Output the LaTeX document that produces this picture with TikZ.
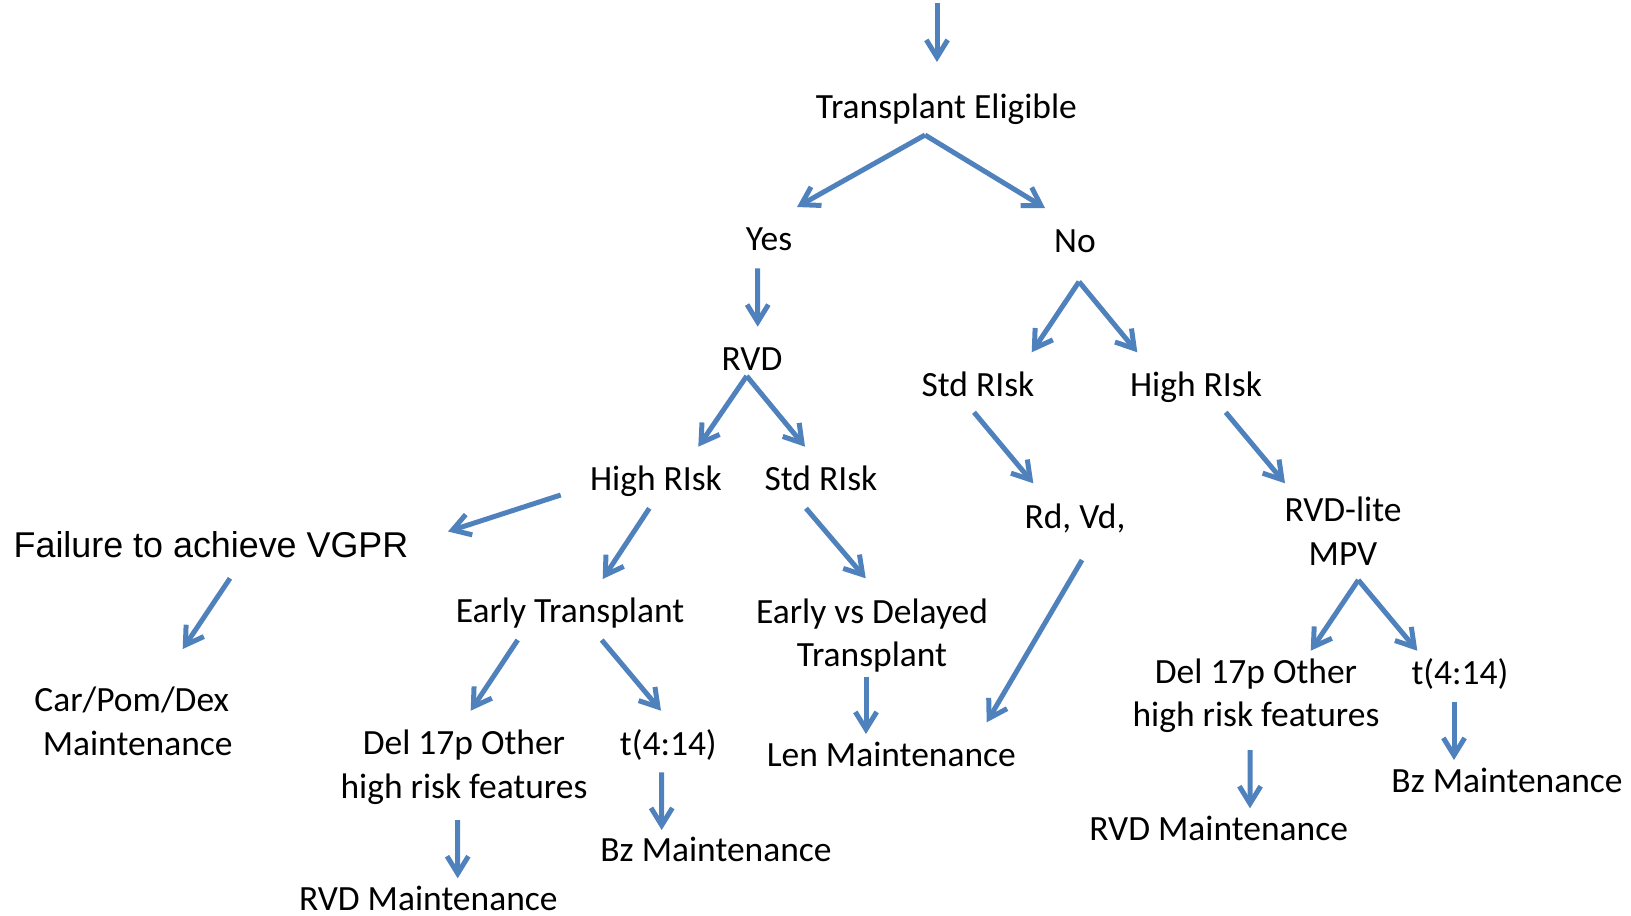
\documentclass[tikz,border=0pt]{standalone}
\usepackage{fontspec}
\setmainfont{Carlito}
\newfontfamily\arialfont{Liberation Sans}
\usetikzlibrary{arrows.meta,calc}
\definecolor{arrowblue}{RGB}{79,129,189}
\begin{document}
\begin{tikzpicture}[x=0.75pt,y=-0.75pt,
  lbl/.style={inner sep=0pt, anchor=base, align=center, font=\fontsize{26.6}{32.5}\selectfont},
  arialbl/.style={inner sep=0pt, anchor=base, font=\arialfont\fontsize{26.9}{32.5}\selectfont},
  arr/.style={draw=arrowblue, line width=3.75pt, -{Straight Barb[length=13pt,width=16pt]}}]
\useasboundingbox (0,0) rectangle (1631,915);

% nodes (base anchor = baseline of the last line)
\node[lbl] (te)    at (946.5,118)  {Transplant Eligible};
\node[lbl] (yes)   at (769,250)    {Yes};
\node[lbl] (no)    at (1075,252.5) {No};
\node[lbl] (rvd)   at (752,370)    {RVD};
\node[lbl] (hrl)   at (656,490)    {High RIsk};
\node[lbl] (srl)   at (821,490)    {Std RIsk};
\node[lbl] (srr)   at (978,396)    {Std RIsk};
\node[lbl] (hrr)   at (1196,396)   {High RIsk};
\node[lbl] (rdvd)  at (1075,528)   {Rd, Vd,};
\node[lbl] (lite)  at (1343,565)   {RVD-lite\\MPV};
\node[arialbl] (fail) at (211,557) {Failure to achieve VGPR};
\node[lbl] (et)    at (570,622.7)  {Early Transplant};
\node[lbl] (evd)   at (872,666.7)  {Early vs Delayed\\Transplant};
\node[lbl] (cpd)   at (137.7,755)  {Car/Pom/Dex\kern9pt\\Maintenance};
\node[lbl] (dell)  at (464,798.3)  {Del 17p Other\\high risk features};
\node[lbl] (tl)    at (668.3,755)  {t(4:14)};
\node[lbl] (len)   at (891.3,766)  {Len Maintenance};
\node[lbl] (delr)  at (1256,726.7) {Del 17p Other\\high risk features};
\node[lbl] (tr)    at (1460,684)   {t(4:14)};
\node[lbl] (bzl)   at (716,861.7)  {Bz Maintenance};
\node[lbl] (bzr)   at (1507,792.7) {Bz Maintenance};
\node[lbl] (rvdml) at (428.3,910)  {RVD Maintenance};
\node[lbl] (rvdmr) at (1218.7,840) {RVD Maintenance};

\coordinate (entry) at (937,3);

% connectors
\draw[arr] (entry) -- ($(te.base)+(-9.5,-56)$);
\draw[arr] ($(te.base)+(-21.5,17)$) -- ($(yes.base)+(28,-43)$);
\draw[arr] ($(te.base)+(-21.5,17)$) -- ($(no.base)+(-30,-44.5)$);
\draw[arr] ($(yes.base)+(-11.3,18.3)$) -- ($(rvd.base)+(5.7,-43.3)$);
\draw[arr] ($(no.base)+(4,29.2)$) -- ($(srr.base)+(53.7,-43.7)$);
\draw[arr] ($(no.base)+(4,29.2)$) -- ($(hrr.base)+(-58.7,-43.7)$);
\draw[arr] ($(rvd.base)+(-5.3,6)$) -- ($(hrl.base)+(42.3,-43.3)$);
\draw[arr] ($(rvd.base)+(-5.3,6)$) -- ($(srl.base)+(-16,-43.3)$);
\draw[arr] ($(srr.base)+(-4,16.3)$) -- ($(rdvd.base)+(-41.7,-44.7)$);
\draw[arr] ($(hrr.base)+(29.7,16.3)$) -- ($(lite.base)+(-58,-81.7)$);
\draw[arr] ($(hrl.base)+(-95.3,5)$) -- ($(fail.base)+(237,-25.5)$);
\draw[arr] ($(hrl.base)+(-6.7,18.3)$) -- ($(et.base)+(32.7,-43.7)$);
\draw[arr] ($(srl.base)+(-15,18.3)$) -- ($(evd.base)+(-6.3,-88.4)$);
\draw[arr] ($(rdvd.base)+(7,32)$) -- ($(len.base)+(95.4,-43.7)$);
\draw[arr] ($(lite.base)+(15.3,15)$) -- ($(delr.base)+(54.7,-76)$);
\draw[arr] ($(lite.base)+(15.3,15)$) -- ($(tr.base)+(-42.7,-33.3)$);
\draw[arr] ($(fail.base)+(19,21.3)$) -- ($(cpd.base)+(45,-106)$);
\draw[arr] ($(et.base)+(-52.3,17.3)$) -- ($(dell.base)+(6.7,-87.6)$);
\draw[arr] ($(et.base)+(31.7,17.3)$) -- ($(tl.base)+(-7.3,-44.3)$);
\draw[arr] ($(evd.base)+(-6,10)$) -- ($(len.base)+(-25.3,-32)$);
\draw[arr] ($(dell.base)+(-6.3,21.7)$) -- ($(rvdml.base)+(29.4,-31.7)$);
\draw[arr] ($(tl.base)+(-6.6,17.3)$) -- ($(bzl.base)+(-54.3,-31.7)$);
\draw[arr] ($(delr.base)+(-6,23.3)$) -- ($(rvdmr.base)+(31.3,-31.7)$);
\draw[arr] ($(tr.base)+(-6,17.7)$) -- ($(bzr.base)+(-53,-32.7)$);
\end{tikzpicture}
\end{document}
